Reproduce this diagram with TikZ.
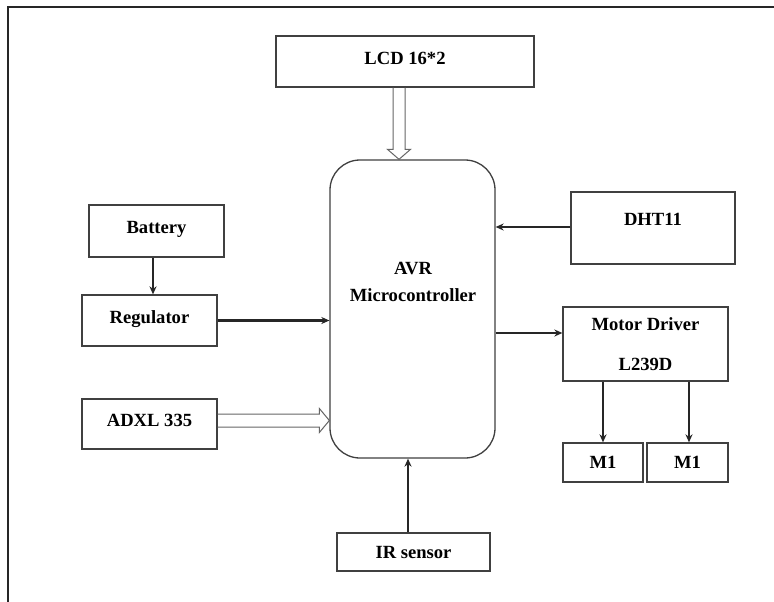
\documentclass[tikz,border=0pt]{standalone}
\usepackage{fontspec}
\setmainfont{Liberation Serif}
\usetikzlibrary{arrows.meta,calc}
\begin{document}
\begin{tikzpicture}[x=1pt,y=-1pt,
  blk/.style={draw=black!75,line width=1.3pt,rectangle,inner sep=0pt,
    font=\fontsize{18.6}{22}\selectfont\bfseries,align=center},
  conn/.style={line width=2.4pt,black!85,-{Stealth[length=8pt,width=7pt]}},
  hollow/.style={draw=black!60,line width=1pt,line join=miter}]
\useasboundingbox (0,0) rectangle (774,602);
\fill[white] (0,0) rectangle (774,602);
% frame
\draw[line width=2pt,black!85] (774,7) -- (8,7) -- (8,602);
% blocks
\node[blk,minimum width=258,minimum height=51] (lcd) at (405,61.5) {\raisebox{6pt}{LCD 16*2}};
\node[blk,rounded corners=30pt,minimum width=165,minimum height=298] (mcu) at (412.5,309) {};
\node[font=\fontsize{18.6}{27}\selectfont\bfseries,align=center] (mcut) at (413,281.5) {AVR\\Microcontroller};
\node[blk,minimum width=135,minimum height=52] (bat) at (156.5,231) {\raisebox{8pt}{Battery}};
\node[blk,minimum width=135,minimum height=51] (reg) at (149.5,320.5) {\raisebox{7pt}{Regulator}};
\node[blk,minimum width=135,minimum height=50] (adxl) at (149.5,424) {\raisebox{7pt}{ADXL 335}};
\node[blk,minimum width=164,minimum height=72] (dht) at (653,228) {\raisebox{18pt}{DHT11}};
\node[blk,minimum width=165,minimum height=74,font=\fontsize{18.6}{40}\selectfont\bfseries] (md) at (645.5,344) {Motor Driver\\L239D};
\node[blk,minimum width=80,minimum height=39] (m1) at (603,462.5) {M1};
\node[blk,minimum width=81,minimum height=39] (m2) at (687.5,462.5) {M1};
\node[blk,minimum width=153,minimum height=38] (ir) at (413.5,552) {IR sensor};
% hollow arrows
\draw[hollow] ($(lcd.south)+(-12,0)$) -- ($(lcd.south |- mcu.north)+(-12,-10)$)
  -- ($(lcd.south |- mcu.north)+(-17.5,-10)$) -- ($(lcd.south |- mcu.north)+(-6,0)$)
  -- ($(lcd.south |- mcu.north)+(5.5,-10)$) -- ($(lcd.south |- mcu.north)+(0,-10)$)
  -- (lcd.south);
\draw[hollow] ($(adxl.east)+(0,-10)$) -- ($(adxl.east -| mcu.west)+(-10,-10)$)
  -- ($(adxl.east -| mcu.west)+(-10,-15.5)$) -- ($(adxl.east -| mcu.west)+(0,-3.5)$)
  -- ($(adxl.east -| mcu.west)+(-10,8.5)$) -- ($(adxl.east -| mcu.west)+(-10,3)$)
  -- ($(adxl.east)+(0,3)$);
% solid arrows
\draw[conn] ($(bat.south)+(-3.5,0)$) -- ($(bat.south |- reg.north)+(-3.5,0)$);
\draw[conn] (reg.east) -- (reg.east -| mcu.west);
\draw[conn] ($(dht.west)+(0,-1)$) -- ($(dht.west -| mcu.east)+(0,-1)$);
\draw[conn] ($(md.west -| mcu.east)+(0,-11)$) -- ($(md.west)+(0,-11)$);
\draw[conn] (md.south -| m1.north) -- (m1.north);
\draw[conn] ($(md.south -| m2.north)+(1.5,0)$) -- ($(m2.north)+(1.5,0)$);
\draw[conn] ($(ir.north)+(-5.5,0)$) -- ($(ir.north |- mcu.south)+(-5.5,0)$);
\end{tikzpicture}
\end{document}
